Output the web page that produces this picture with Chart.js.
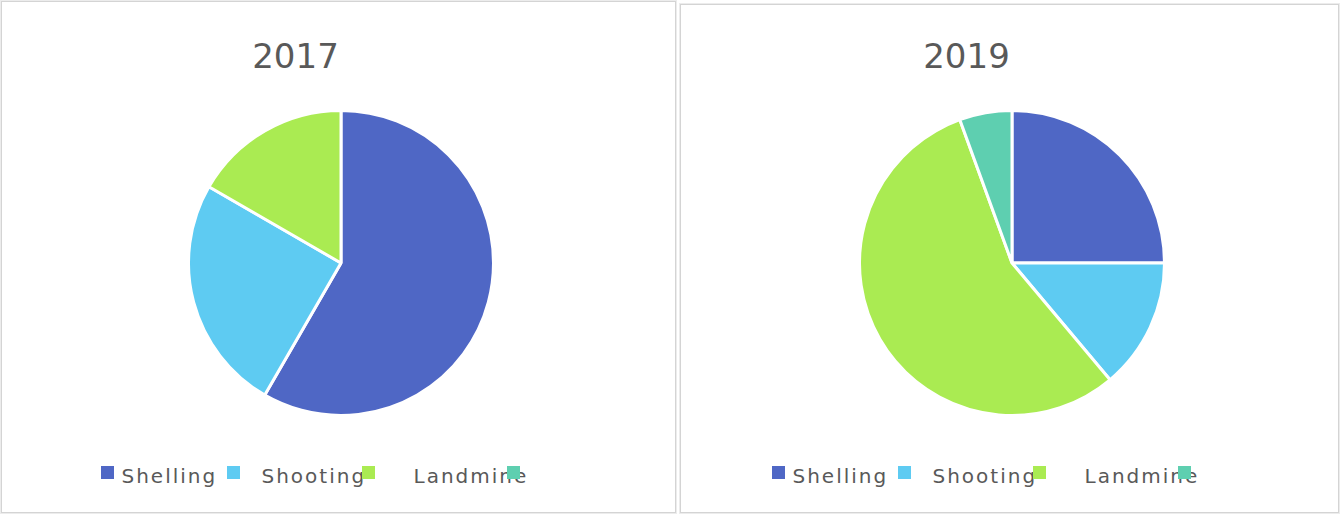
<!DOCTYPE html>
<html>
<head>
<meta charset="utf-8">
<script src="https://cdn.jsdelivr.net/npm/chart.js@4.4.1/dist/chart.umd.min.js"></script>
<style>
  html, body { margin: 0; padding: 0; background: #fff; }
  body { position: relative; width: 1341px; height: 514px; overflow: hidden; font-family: "DejaVu Sans", sans-serif; }
  .panel { position: absolute; border: 1px solid #d4d4d4; box-shadow: 0 0 0 1px #ececec; box-sizing: border-box; }
  .pie { position: absolute; width: 308px; height: 308px; }
  .title { position: absolute; width: 200px; text-align: center; font-size: 34px; line-height: 34px; color: #595959; }
  .legend-box { position: absolute; width: 13px; height: 13px; z-index: 2; }
  .legend-text { position: absolute; font-size: 20px; line-height: 20px; letter-spacing: 2px; color: #595959; white-space: nowrap; z-index: 1; }
</style>
</head>
<body>
<div class="panel" style="left:1px;top:1px;width:675px;height:512px"></div>
<div class="panel" style="left:680px;top:4px;width:659px;height:509px"></div>
<canvas id="pie2017" class="pie" width="308" height="308"></canvas>
<canvas id="pie2019" class="pie" width="308" height="308"></canvas>

<script>
// data
const categories = ['Shelling', 'Shooting', 'Landmine', '']
const values2017 = [35, 15, 10, 0]
const values2019 = [9, 5, 20, 2]

const palette = ['#4f67c5', '#5ecbf2', '#aaeb52', '#5ecfb0']

// legend layout (offset from pie centre), matches the slightly broken original legend
const markerOffsets = [-240, -114, 21, 166]
const textOffsets = [-219, -79, 73, 0]

function addText(cls, x, y, text) {
  const el = document.createElement('div')
  el.className = cls
  el.style.left = x + 'px'
  el.style.top = y + 'px'
  el.textContent = text
  document.body.appendChild(el)
  return el
}

function drawPie(id, title, values, cx, cy) {
  const canvas = document.getElementById(id)
  canvas.style.left = (cx - 154) + 'px'
  canvas.style.top = (cy - 154) + 'px'

  new Chart(canvas.getContext('2d'), {
    type: 'pie',
    data: {
      labels: categories,
      datasets: [{
        data: values,
        backgroundColor: palette,
        borderColor: '#ffffff',
        borderWidth: 3
      }]
    },
    options: {
      responsive: false,
      animation: false,
      layout: { padding: 0 },
      plugins: {
        legend: { display: false },
        title: { display: false },
        tooltip: { enabled: false }
      }
    }
  })

  addText('title', cx - 45 - 100, 39, title)

  categories.forEach((name, i) => {
    const box = document.createElement('div')
    box.className = 'legend-box'
    box.style.left = (cx + markerOffsets[i]) + 'px'
    box.style.top = '466px'
    box.style.background = palette[i]
    document.body.appendChild(box)
    if (name) addText('legend-text', cx + textOffsets[i], 466, name)
  })
}

drawPie('pie2017', '2017', values2017, 340.5, 262.5)
drawPie('pie2019', '2019', values2019, 1011.5, 263)
</script>
</body>
</html>
